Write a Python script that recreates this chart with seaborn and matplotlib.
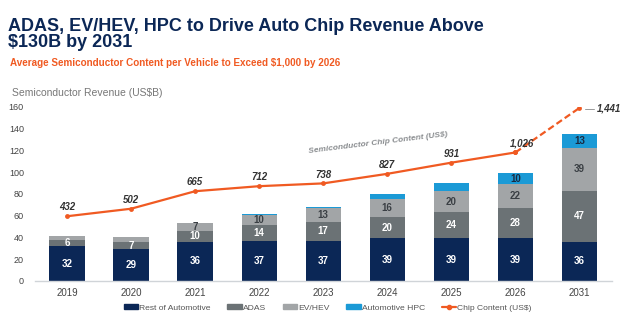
import matplotlib
matplotlib.use("Agg")
import matplotlib.pyplot as plt
import seaborn as sns
import numpy as np
import pandas as pd
from matplotlib.patches import Patch
from matplotlib.lines import Line2D

years = ["2019", "2020", "2021", "2022", "2023", "2024", "2025", "2026", "2031"]
rest_auto = [32, 29, 36, 37, 37, 39, 39, 39, 36]
adas = [6, 7, 10, 14, 17, 20, 24, 28, 47]
ev_hev = [3, 4, 7, 10, 13, 16, 20, 22, 39]
auto_hpc = [0, 0, 0, 0.6, 1, 5, 7, 10, 13]
chip_content = [432, 502, 665, 712, 738, 827, 931, 1026, 1441]
chip_labels = ["432", "502", "665", "712", "738", "827", "931", "1,026", "1,441"]
yticks = [0, 20, 40, 60, 80, 100, 120, 140, 160]

c_rest = "#0b2756"
c_adas = "#6b7275"
c_ev = "#a2a5a7"
c_hpc = "#1b9ad6"
c_line = "#f05a22"

sns.set_theme(style="white")
plt.rcParams['font.family'] = ['Liberation Sans', 'DejaVu Sans']

fig = plt.figure(figsize=(6.24, 3.24), dpi=100)
ax = fig.add_axes([0.056, 0.133, 0.924, 0.537])

df = pd.DataFrame({"year": years, "rest": rest_auto, "adas": adas,
                   "ev": ev_hev, "hpc": auto_hpc})
df["c1"] = df["rest"]
df["c2"] = df["c1"] + df["adas"]
df["c3"] = df["c2"] + df["ev"]
df["c4"] = df["c3"] + df["hpc"]

for col, color in [("c4", c_hpc), ("c3", c_ev), ("c2", c_adas), ("c1", c_rest)]:
    sns.barplot(data=df, x="year", y=col, color=color, width=0.55,
                saturation=1, ax=ax, linewidth=0)

# segment labels
for i in range(len(years)):
    segs = [(0, rest_auto[i], "white"), (rest_auto[i], adas[i], "white"),
            (rest_auto[i] + adas[i], ev_hev[i], "#3a3f44"),
            (rest_auto[i] + adas[i] + ev_hev[i], auto_hpc[i], "#1a2a40")]
    for k, (b, h, tc) in enumerate(segs):
        if h >= 5 and not (k == 3 and h < 9):
            ax.text(i, b + h / 2, f"{h:g}", ha="center", va="center",
                    color=tc, fontsize=7, fontweight="bold")

ax.set_ylim(0, 160)
ax.set_xlim(-0.5, 8.5)
ax.set_yticks(yticks)
ax.set_ylabel("")
ax.set_xlabel("")
ax.tick_params(axis="y", labelsize=6.5, labelcolor="#444444", length=0, pad=8)
ax.tick_params(axis="x", labelsize=7, labelcolor="#444444", length=0, pad=5)
for s in ["left", "right", "top"]:
    ax.spines[s].set_visible(False)
ax.spines["bottom"].set_color("#d0d4d8")
ax.spines["bottom"].set_linewidth(1)
ax.grid(False)

# chip content line on hidden secondary axis
ax2 = ax.twinx()
ax2.set_ylim(-170, 1450)
line_df = pd.DataFrame({"x": np.arange(len(years)), "v": chip_content})
sns.lineplot(data=line_df.iloc[:8], x="x", y="v", color=c_line, lw=1.6,
             marker="o", markersize=3.5, markeredgewidth=0, ax=ax2)
sns.lineplot(data=line_df.iloc[7:], x="x", y="v", color=c_line, lw=1.6,
             linestyle=(0, (3, 1.5)), marker="o", markersize=3.5,
             markeredgewidth=0, ax=ax2)
ax2.set_axis_off()
for i, (v, lab) in enumerate(zip(chip_content, chip_labels)):
    if i == len(years) - 1:
        ax2.plot([i + 0.08, i + 0.22], [v - 10, v - 10], color="#999999", lw=0.7)
        ax2.text(i + 0.27, v - 10, lab, ha="left", va="center", fontsize=7,
                 fontweight="bold", fontstyle="italic", color="#333333")
    elif i == 7:
        ax2.text(i + 0.1, v + 35, lab, ha="center", va="bottom", fontsize=7,
                 fontweight="bold", fontstyle="italic", color="#333333")
    else:
        ax2.text(i, v + 35, lab, ha="center", va="bottom", fontsize=7,
                 fontweight="bold", fontstyle="italic", color="#333333")
ax.text(4.85, 127, "Semiconductor Chip Content (US$)", ha="center", va="center",
        rotation=7, fontsize=6, fontweight="bold", fontstyle="italic",
        color="#8a8d90")

# titles
fig.text(0.013, 0.945, "ADAS, EV/HEV, HPC to Drive Auto Chip Revenue Above\n$130B by 2031",
         ha="left", va="top", fontsize=13, fontweight="bold", color="#0b2756",
         linespacing=0.95)
fig.text(0.016, 0.805, "Average Semiconductor Content per Vehicle to Exceed $1,000 by 2026",
         ha="left", va="center", fontsize=7.1, fontweight="bold", color="#f05a22")
fig.text(0.019, 0.712, "Semiconductor Revenue (US$B)", ha="left", va="center",
         fontsize=7.5, color="#777777")

handles = [Patch(color=c_rest, label="Rest of Automotive"),
           Patch(color=c_adas, label="ADAS"),
           Patch(color=c_ev, label="EV/HEV"),
           Patch(color=c_hpc, label="Automotive HPC"),
           Line2D([0], [0], color=c_line, lw=1.6, marker="o", markersize=3,
                  label="Chip Content (US$)")]
fig.legend(handles=handles, loc="center", bbox_to_anchor=(0.525, 0.05), ncol=5,
           frameon=False, handlelength=1.7, handleheight=0.5,
           handletextpad=0.1, columnspacing=2.0, labelcolor="#555555",
           fontsize=6.1)

fig.savefig("out.png", dpi=100)
